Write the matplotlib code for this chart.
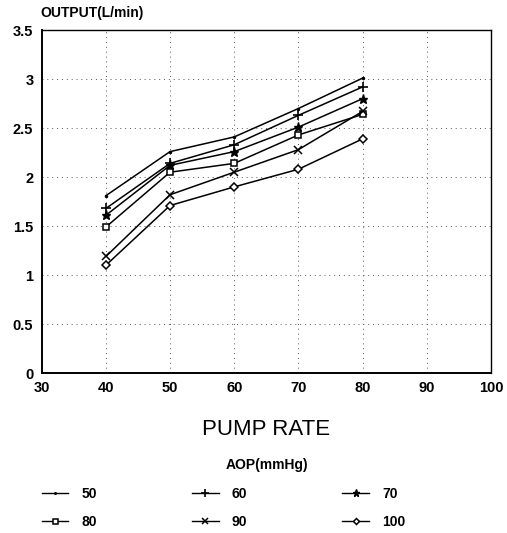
import numpy as np
import matplotlib
matplotlib.use("Agg")
import matplotlib.pyplot as plt

pump_rate = [40, 50, 60, 70, 80]
aop_labels = ["50", "60", "70", "80", "90", "100"]
out_50 = [1.81, 2.26, 2.41, 2.70, 3.01]
out_60 = [1.68, 2.14, 2.33, 2.63, 2.92]
out_70 = [1.61, 2.12, 2.26, 2.51, 2.80]
out_80 = [1.49, 2.05, 2.14, 2.43, 2.64]
out_90 = [1.19, 1.82, 2.05, 2.28, 2.67]
out_100 = [1.10, 1.71, 1.90, 2.08, 2.39]

x_ticks = [30, 40, 50, 60, 70, 80, 90, 100]
y_ticks = [0, 0.5, 1, 1.5, 2, 2.5, 3, 3.5]

plt.rcParams['font.family'] = ['Liberation Sans', 'DejaVu Sans']

fig = plt.figure(figsize=(5.07, 5.33), dpi=100)
ax = fig.add_axes([0.0822, 0.300, 0.886, 0.6435])

series = [out_50, out_60, out_70, out_80, out_90, out_100]
# marker style for each AOP curve
styles = [
    dict(marker='.', markersize=3),
    dict(marker='+', markersize=7, markeredgewidth=1.2),
    dict(marker='*', markersize=6.5),
    dict(marker='s', markersize=4.5, markerfacecolor='white', markeredgewidth=1.1),
    dict(marker='x', markersize=5.5, markeredgewidth=1.1),
    dict(marker='D', markersize=3.8, markerfacecolor='white', markeredgewidth=1.1),
]
handles = []
for vals, lab, st in zip(series, aop_labels, styles):
    h, = ax.plot(pump_rate, vals, color='black', linewidth=1.1, label=lab, **st)
    handles.append(h)

ax.set_xlim(30, 100)
ax.set_ylim(0, 3.5)
ax.set_xticks(x_ticks)
ax.set_yticks(y_ticks)
ax.set_xticklabels([str(v) for v in x_ticks], fontsize=10.5, fontweight='bold')
ax.set_yticklabels(['0', '0.5', '1', '1.5', '2', '2.5', '3', '3.5'],
                   fontsize=10.5, fontweight='bold')
ax.tick_params(length=0, pad=6)
ax.grid(True, color='#555555', linestyle=(0, (1, 4)), linewidth=0.7)
for s in ax.spines.values():
    s.set_linewidth(1.0)
ax.spines['left'].set_linewidth(1.4)
ax.spines['bottom'].set_linewidth(1.4)

fig.text(0.079, 0.975, "OUTPUT(L/min)", fontsize=10, fontweight='bold',
         ha='left', va='center')
fig.text(0.525, 0.195, "PUMP RATE", fontsize=16, ha='center', va='center')
fig.text(0.527, 0.128, "AOP(mmHg)", fontsize=10, fontweight='bold',
         ha='center', va='center')

# legend, small markers like the original key
leg_handles = []
for lab, st in zip(aop_labels, styles):
    st2 = dict(st)
    st2['markersize'] = st['markersize'] * 0.8
    h, = ax.plot([], [], color='black', linewidth=1.0, **st2)
    leg_handles.append(h)

order = [0, 3, 1, 4, 2, 5]
leg = fig.legend([leg_handles[i] for i in order], [aop_labels[i] for i in order],
                 ncol=3, loc='upper left', bbox_to_anchor=(0.0828, 0.086),
                 frameon=False, borderpad=0, borderaxespad=0,
                 handlelength=1.9, handletextpad=0.95,
                 columnspacing=6.85, labelspacing=1.0,
                 prop=dict(size=10, weight='bold'))

fig.savefig("out.png", dpi=100)
